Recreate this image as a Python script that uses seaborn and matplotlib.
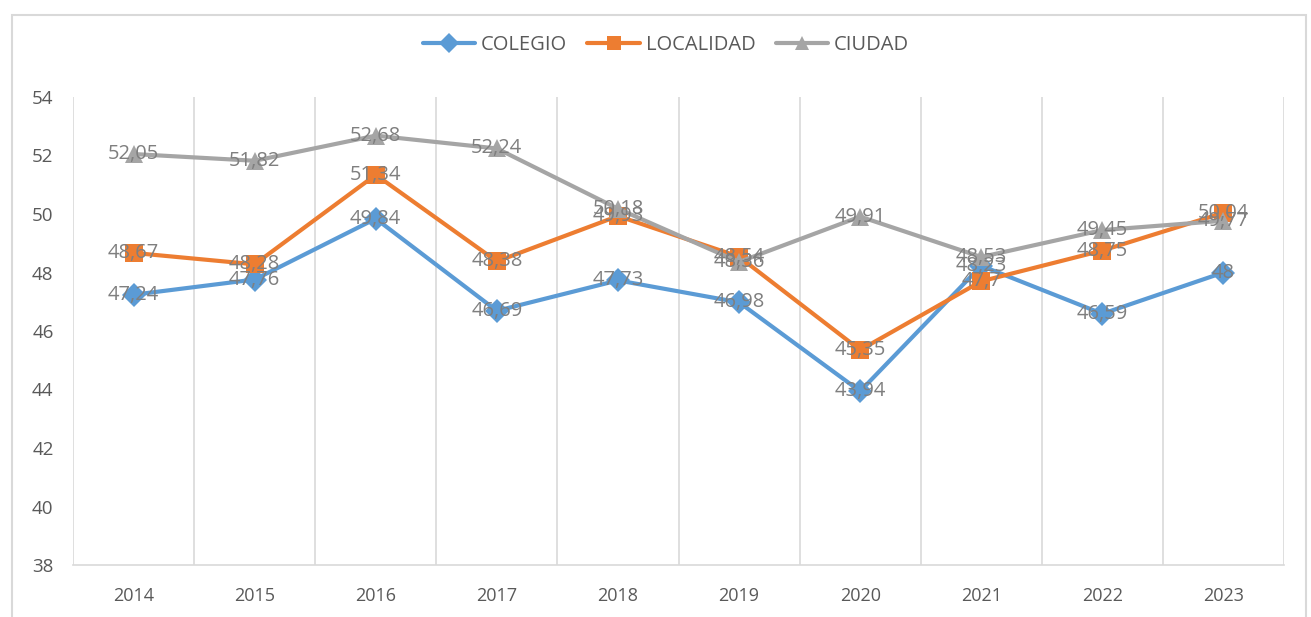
import pandas as pd
import seaborn as sns
import matplotlib.pyplot as plt
from matplotlib.patches import Rectangle

# Data
years = ['2014', '2015', '2016', '2017', '2018', '2019', '2020', '2021', '2022', '2023']
colegio = [47.24, 47.76, 49.84, 46.69, 47.73, 46.98, 43.94, 48.23, 46.59, 48]
localidad = [48.67, 48.28, 51.34, 48.38, 49.93, 48.54, 45.35, 47.7, 48.75, 50.04]
ciudad = [52.05, 51.82, 52.68, 52.24, 50.18, 48.36, 49.91, 48.53, 49.45, 49.77]
series_names = ['COLEGIO', 'LOCALIDAD', 'CIUDAD']
y_ticks = [38, 40, 42, 44, 46, 48, 50, 52, 54]

# Config
sns.set_style("white")
plt.rcParams['font.family'] = ['Open Sans', 'DejaVu Sans']
palette = {'COLEGIO': '#5B9BD5', 'LOCALIDAD': '#ED7D31', 'CIUDAD': '#A5A5A5'}
markers = {'COLEGIO': 'D', 'LOCALIDAD': 's', 'CIUDAD': '^'}
TEXT = '#595959'

# Long-form table
rows = []
for name, vals in zip(series_names, [colegio, localidad, ciudad]):
    for i, v in enumerate(vals):
        rows.append({'pos': i, 'year': years[i], 'serie': name, 'valor': v})
df = pd.DataFrame(rows)

fig = plt.figure(figsize=(13.11, 6.17), dpi=100)
ax = fig.add_axes([73 / 1311, 52 / 617, 1211 / 1311, 468 / 617])

sns.lineplot(data=df, x='pos', y='valor', hue='serie', style='serie',
             palette=palette, markers=markers, dashes=False,
             linewidth=3, markersize=12.5, markeredgewidth=0,
             hue_order=series_names, style_order=series_names,
             legend=False, ax=ax)

# Data labels
for _, r in df.iterrows():
    label = f"{r['valor']:g}".replace('.', ',')
    ax.text(r['pos'], r['valor'], label, ha='center', va='center',
            fontsize=14.5, color='#7F7F7F')

# Axes styling
ax.set_xlim(-0.5, len(years) - 0.5)
ax.set_ylim(38, 54)
ax.set_xticks(range(len(years)))
ax.set_xticklabels(years)
ax.set_xticks([i - 0.5 for i in range(len(years) + 1)], minor=True)
ax.set_yticks(y_ticks)
ax.grid(True, which='minor', axis='x', color='#D9D9D9', linewidth=1.2)
ax.grid(False, which='major')
ax.tick_params(axis='both', which='both', length=0, colors=TEXT, labelsize=13.5)
ax.tick_params(axis='y', pad=14)
ax.tick_params(axis='x', pad=16)
for lbl in ax.get_xticklabels():
    lbl.set_fontsize(13)
for side in ['top', 'right', 'left']:
    ax.spines[side].set_visible(False)
ax.spines['bottom'].set_color('#D9D9D9')
ax.spines['bottom'].set_linewidth(1.2)
ax.set_xlabel('')
ax.set_ylabel('')

# Legend
handles = [plt.Line2D([], [], color=palette[n], marker=markers[n], lw=3,
                      markersize=10, markeredgewidth=0) for n in series_names]
fig.legend(handles, series_names, loc='center', bbox_to_anchor=(0.508, 0.927),
           ncol=3, frameon=False, fontsize=14.5, handlelength=2.6,
           columnspacing=1.0, handletextpad=0.3, labelcolor=TEXT)

# Chart frame
fig.patches.append(Rectangle((12 / 1311, -0.02), 1294 / 1311, (602 / 617) + 0.02,
                             transform=fig.transFigure, fill=False,
                             edgecolor='#D9D9D9', linewidth=1.5))

fig.savefig('out.png', dpi=100)
